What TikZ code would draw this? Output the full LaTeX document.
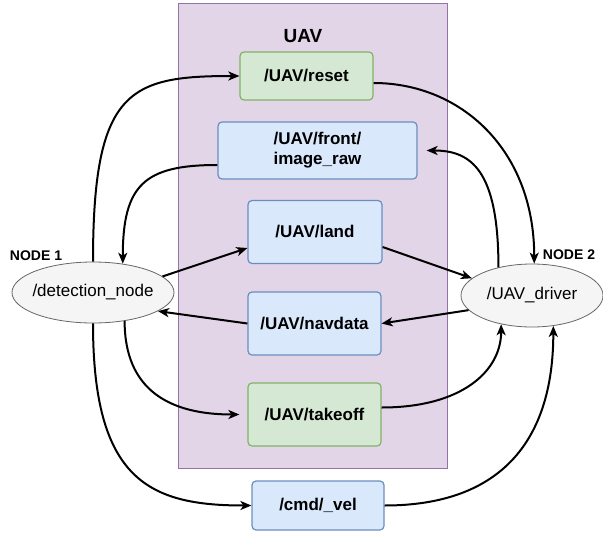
\documentclass[tikz,border=0pt]{standalone}
\usepackage{fontspec}
\setmainfont{Liberation Sans}
\usepackage{xcolor}
\usetikzlibrary{arrows.meta,shapes.geometric}

\definecolor{uavfill}{HTML}{E1D5E7}
\definecolor{uavdraw}{HTML}{9673A6}
\definecolor{topicfill}{HTML}{DAE8FC}
\definecolor{topicdraw}{HTML}{6C8EBF}
\definecolor{srvfill}{HTML}{D5E8D4}
\definecolor{srvdraw}{HTML}{82B366}
\definecolor{rosfill}{HTML}{F5F5F5}
\definecolor{rosdraw}{HTML}{666666}

\tikzset{
  topic/.style={rectangle,rounded corners=4pt,draw=topicdraw,fill=topicfill,line width=1.2pt,
    align=center,font=\fontsize{17}{20}\selectfont\bfseries,inner sep=0pt},
  srv/.style={topic,draw=srvdraw,fill=srvfill},
  rosnode/.style={ellipse,draw=rosdraw,fill=rosfill,line width=0.8pt,inner sep=0pt,
    label={[font=\fontsize{17}{20}\selectfont]center:#1}},
  tag/.style={font=\fontsize{14}{16}\selectfont\bfseries},
  link/.style={->,line width=2pt}
}

\begin{document}
\begin{tikzpicture}[x=1pt,y=-1pt,>={Stealth[length=11pt,width=9pt,inset=3pt]}]
\useasboundingbox (0,0) rectangle (603,536);
\draw[fill=uavfill,draw=uavdraw,line width=1pt] (178,3) rectangle (447,468);
\node[font=\fontsize{19}{22}\selectfont\bfseries] (uav) at (303,36) {UAV};

\node[srv,minimum width=133pt,minimum height=48pt] (reset) at (306.5,76) {/UAV/reset};
\node[topic,minimum width=199pt,minimum height=57pt] (imgraw) at (317.5,150.5) {/UAV/front/\\image\_raw};
\node[topic,minimum width=134pt,minimum height=63pt] (land) at (315,232) {/UAV/land};
\node[topic,minimum width=133pt,minimum height=63pt] (navdata) at (314.5,323.5) {/UAV/navdata};
\node[srv,minimum width=133pt,minimum height=63pt] (takeoff) at (314.5,414.5) {/UAV/takeoff};
\node[topic,minimum width=132pt,minimum height=49pt] (cmdvel) at (318,505.5) {/cmd/\_vel};

\node[rosnode={/detection\_node},minimum width=162pt,minimum height=61pt] (det) at (93,292.5) {};
\node[rosnode={/UAV\_driver},minimum width=142pt,minimum height=63pt] (drv) at (532,295.5) {};
\node[tag] (node1) at (36,256) {NODE 1};
\node[tag] (node2) at (569,255) {NODE 2};

% detection node side
\draw[link] (det.north) .. controls +(0,-172) and +(-110,0) .. (reset.west);
\draw[link] ([yshift=-14.5pt]imgraw.west) .. controls +(-73,0) and +(0,-79) .. (det.44.5);
\draw[link] (det.13) -- ([yshift=-16pt]land.west);
\draw[link] (navdata.west) -- (det.-16);
\draw[link,shorten >=8pt] (det.-42) .. controls +(0,69) and +(-78,0) .. (takeoff.west);
\draw[link] (det.south) .. controls +(0,157) and +(-102,0) .. (cmdvel.west);

% driver side
\draw[link] ([yshift=-7pt]reset.east) .. controls +(87,0) and +(0,-114) .. (drv.86);
\draw[link,shorten >=9pt] (drv.140.8) .. controls +(0,-98) and +(53,0) .. (imgraw.east);
\draw[link] ([yshift=-15pt]land.east) -- (drv.164);
\draw[link] (drv.193) -- (navdata.east);
\draw[link] ([yshift=7pt]takeoff.east) .. controls +(80,0) and +(0,47) .. (drv.-137.6);
\draw[link] (cmdvel.east) .. controls +(116,0) and +(0,115) .. (drv.-55);
\end{tikzpicture}
\end{document}
